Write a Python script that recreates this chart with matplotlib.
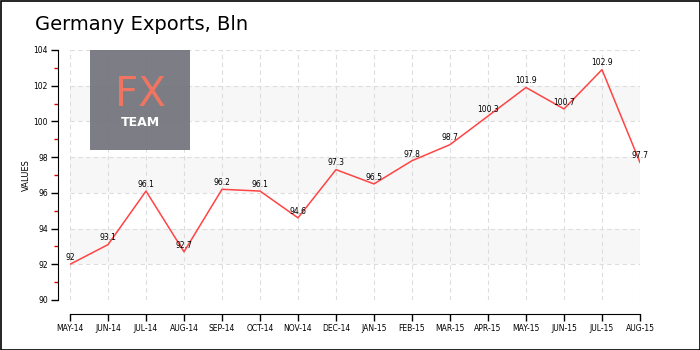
import matplotlib.pyplot as plt
from matplotlib.patches import Rectangle

# Data
months = ["MAY-14", "JUN-14", "JUL-14", "AUG-14", "SEP-14", "OCT-14", "NOV-14", "DEC-14",
          "JAN-15", "FEB-15", "MAR-15", "APR-15", "MAY-15", "JUN-15", "JUL-15", "AUG-15"]
values = [92, 93.1, 96.1, 92.7, 96.2, 96.1, 94.6, 97.3, 96.5, 97.8, 98.7, 100.3, 101.9, 100.7, 102.9, 97.7]
y_ticks = [90, 92, 94, 96, 98, 100, 102, 104]
grey_bands = [(92, 94), (96, 98), (100, 102)]

plt.rcParams['font.family'] = ['DejaVu Sans']

fig = plt.figure(figsize=(7, 3.5), dpi=100)
ax = fig.add_axes([70 / 700, 50 / 350, 570 / 700, 250 / 350])

x = list(range(len(months)))

# alternating background bands
for lo, hi in grey_bands:
    ax.axhspan(lo, hi, color="#f7f7f7", zorder=0, lw=0)

ax.grid(True, color="#dddddd", linestyle=(0, (4, 3)), linewidth=0.8, zorder=1)

ax.plot(x, values, color="#ff4444", linewidth=1.1, zorder=3)
for xi, v in zip(x, values):
    ax.text(xi, v + 0.12, f"{v:g}", ha="center", va="bottom", fontsize=5.5, color="black", zorder=4)

ax.set_xlim(0, len(months) - 1)
ax.set_ylim(90, 104)
ax.set_xticks(x)
ax.set_xticklabels(months)
ax.set_yticks(y_ticks)
ax.set_yticklabels([str(t) for t in y_ticks])
ax.set_yticks([91, 93, 95, 97, 99, 101, 103], minor=True)
ax.tick_params(axis="y", which="minor", length=3, color="#dd0000", width=1)
ax.tick_params(axis="both", which="major", length=5, width=1, color="black", pad=2, labelsize=5.5)
ax.set_ylabel("VALUES", fontsize=6, labelpad=2)

for s in ["top", "right"]:
    ax.spines[s].set_visible(False)
ax.spines["left"].set_position(("outward", 9))
ax.spines["bottom"].set_position(("outward", 10))

# logo box
fig.patches.append(Rectangle((90 / 700, 200 / 350), 100 / 700, 100 / 350,
                             transform=fig.transFigure, facecolor="#6f6f78", alpha=0.9,
                             edgecolor="none", zorder=5))
fig.text(140 / 700, 255 / 350, "FX", ha="center", va="center", fontsize=29,
         color="#f07561", zorder=6)
fig.text(140 / 700, 228 / 350, "TEAM", ha="center", va="center", fontsize=9,
         color="white", fontweight="bold", zorder=6)

# title
fig.text(35 / 700, 326 / 350, "Germany Exports, Bln", ha="left", va="center", fontsize=14)

# outer frame
fig.patches.append(Rectangle((0.5 / 700, 0.5 / 350), 699 / 700, 349 / 350, transform=fig.transFigure,
                             facecolor="none", edgecolor="black", linewidth=1.2))

fig.savefig("out.png", dpi=100)
